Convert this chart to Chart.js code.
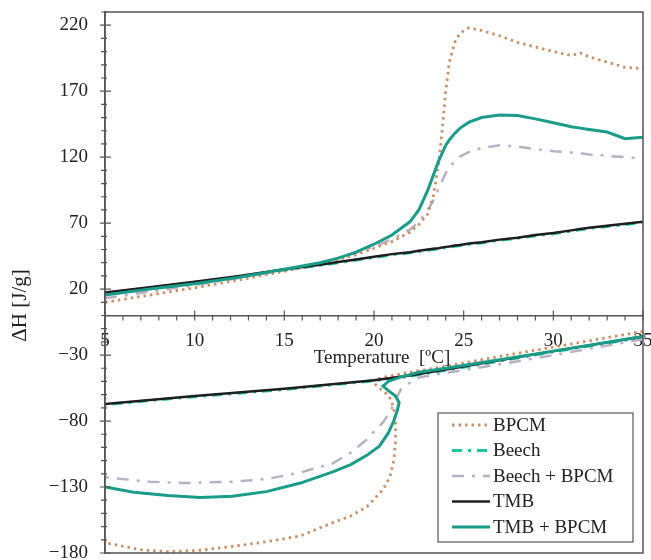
<!DOCTYPE html>
<html>
<head>
<meta charset="utf-8">
<script src="https://cdn.jsdelivr.net/npm/chart.js@4.4.1/dist/chart.umd.min.js"></script>
<style>
  html, body { margin: 0; padding: 0; background: #fff; }
  canvas { display: block; }
</style>
</head>
<body>
<canvas id="dsc" width="651" height="560"></canvas>
<script>
// axis labels
const tempTicks = [5, 10, 15, 20, 25, 30, 35];
const dhTicks = [-180, -130, -80, -30, 20, 70, 120, 170, 220];

// heating branch (positive dH), shared temperature grid
const heatT = [5, 7.5, 10, 12.5, 15, 17, 18, 19, 20, 21, 22, 22.5, 23, 23.3, 23.6, 23.8, 24, 24.2, 24.5, 24.8, 25.3, 26, 27, 28, 29, 30, 31, 31.5, 32, 33, 34, 35];
const bpcmHeat = [10, 15.5, 21, 27, 33.5, 39, 42.5, 46, 51, 56, 63, 69, 77, 90, 115, 140, 170, 192, 207, 214, 218, 216, 212, 207, 203.5, 200, 197, 199, 196, 192, 188, 187];
const beechHeat = [17, 21, 25, 29.5, 34.5, 38, 40, 42, 44, 46, 47.5, 48.5, 49.5, 50, 50.5, 51, 51.5, 51.8, 52.5, 53, 54, 55, 57, 58.5, 60.5, 62, 64, 65, 66, 67.5, 69, 70.5];
const beechPcmHeat = [13, 18, 23, 28.5, 34.5, 40, 43.5, 47.5, 52, 58, 65, 71, 80, 87, 96, 102, 108, 112, 117, 120.5, 124, 127, 129, 128, 126, 124.5, 123.5, 123, 122, 121, 120, 119];
const tmbHeat = [17.5, 21.5, 25.5, 30, 35, 38.5, 40.5, 42.5, 44.5, 46.5, 48, 49, 50, 50.5, 51, 51.5, 52, 52.3, 53, 53.5, 54.5, 55.5, 57.5, 59, 61, 62.5, 64.5, 65.5, 66.5, 68, 69.5, 71];
const tmbPcmHeat = [15.5, 20, 24, 29, 35, 40, 43.5, 48, 54, 61, 71, 80, 95, 106, 117, 123, 129, 133, 138, 142, 146.5, 150, 152, 151.5, 149, 146, 143, 142, 141, 139, 134, 135];

// cooling branch (negative dH), traced from 35 down to 5
const coolT = [35, 30, 27, 24, 22, 20, 15, 10, 5];
const beechCool = [-16.5, -27.5, -34.5, -41.5, -46, -49.5, -56, -61.5, -67.5];
const tmbCool = [-16, -27, -34, -41, -45.5, -49, -55.5, -61, -67];

const bpcmCoolT = [35, 30, 27, 24, 22, 20.5, 19.9, 20.2, 20.6, 20.9, 21.1, 21.2, 21.2, 21.1, 20.9, 20.5, 19.6, 18.7, 17.7, 15.9, 14, 12.1, 10.3, 8.5, 7, 5.3, 5];
const bpcmCool = [-12, -24, -31, -38.5, -43, -47, -49.5, -54, -58, -63, -70, -80, -95, -110, -122, -132, -145, -152, -157, -167, -171.5, -175, -178, -179, -177.5, -173, -172];

const beechPcmCoolT = [35, 30, 27, 24, 22.5, 22, 21.5, 21.2, 20.9, 20.5, 20, 19.6, 18.7, 17.7, 15.9, 14, 12.1, 9.4, 7.5, 5.3, 5];
const beechPcmCool = [-18, -30, -37, -43.5, -47, -51, -56, -64, -73, -81, -88, -94, -104, -112, -119, -124, -126, -127, -126, -123, -122.5];

const tmbPcmCoolT = [35, 30, 27, 24, 22.5, 21.5, 20.8, 20.5, 20.8, 21.2, 21.4, 21.3, 21.1, 20.8, 20.3, 19.6, 18.7, 17.7, 15.9, 14, 12.1, 10.3, 8.5, 6.6, 5];
const tmbPcmCool = [-16, -27, -33.5, -40, -43, -46.5, -50, -53.5, -57, -61, -66, -72, -80, -89, -99, -106, -113, -118.5, -127, -133.5, -137, -138, -136.5, -134, -130];

const SERIF = '"Liberation Serif", "Times New Roman", serif';

const pts = (xs, ys) => xs.map((x, i) => ({ x: x, y: ys[i] }));

// line styles per material
const styles = {
  'BPCM':         { borderColor: '#c8916a', borderWidth: 2.8, borderDash: [2.5, 4], order: 2 },
  'Beech':        { borderColor: '#22c2a4', borderWidth: 3, borderDash: [10, 6, 3, 6], order: 4 },
  'Beech + BPCM': { borderColor: '#b9b1c2', borderWidth: 2.5, borderDash: [12, 8, 3, 8], order: 3 },
  'TMB':          { borderColor: '#1e1e1e', borderWidth: 2.5, borderDash: [], order: 1 },
  'TMB + BPCM':   { borderColor: '#1a9c89', borderWidth: 3, borderDash: [], order: 0 }
};

const series = [
  ['BPCM', pts(heatT, bpcmHeat), pts(bpcmCoolT, bpcmCool)],
  ['Beech', pts(heatT, beechHeat), pts(coolT, beechCool)],
  ['Beech + BPCM', pts(heatT, beechPcmHeat), pts(beechPcmCoolT, beechPcmCool)],
  ['TMB', pts(heatT, tmbHeat), pts(coolT, tmbCool)],
  ['TMB + BPCM', pts(heatT, tmbPcmHeat), pts(tmbPcmCoolT, tmbPcmCool)]
];

const datasets = [];
series.forEach(([name, heat, cool]) => {
  const st = styles[name];
  datasets.push(Object.assign({ label: name, data: heat, inLegend: true }, st));
  datasets.push(Object.assign({ label: name + ' (cooling)', data: cool, inLegend: false }, st));
});
datasets.forEach(d => {
  d.showLine = true;
  d.pointRadius = 0;
  d.fill = false;
  d.tension = 0;
});

// box, tick marks, axis titles and legend
const frame = {
  id: 'frame',
  afterDraw(chart) {
    const { ctx, chartArea: a, scales: { x, y } } = chart;
    const y0 = y.getPixelForValue(0);
    ctx.save();
    ctx.strokeStyle = '#555';
    ctx.lineWidth = 1.5;
    ctx.strokeRect(a.left, a.top, a.right - a.left, a.bottom - a.top);

    ctx.lineWidth = 1.2;
    ctx.beginPath();
    x.ticks.forEach(t => {
      const px = x.getPixelForValue(t.value);
      const major = tempTicks.includes(t.value);
      ctx.moveTo(px, y0 - (major ? 5 : 0));
      ctx.lineTo(px, y0 + 5);
    });
    y.ticks.forEach(t => {
      const py = y.getPixelForValue(t.value);
      const major = dhTicks.includes(t.value);
      ctx.moveTo(a.left - (major ? 5 : 4), py);
      ctx.lineTo(a.left + (major ? 6 : 2), py);
    });
    ctx.stroke();

    ctx.fillStyle = '#222';
    ctx.textAlign = 'center';
    ctx.textBaseline = 'middle';
    ctx.font = '19px ' + SERIF;
    ctx.fillText('Temperature  [\u00baC]', (a.left + a.right) / 2 + 8, y0 + 43);

    ctx.save();
    ctx.translate(20, (a.top + a.bottom) / 2 + 23);
    ctx.rotate(-Math.PI / 2);
    ctx.font = '21px ' + SERIF;
    ctx.fillText('\u0394H [J/g]', 0, 0);
    ctx.restore();

    // legend
    const bx = a.right - 205, by = a.bottom - 140, bw = 195, bh = 129;
    ctx.fillStyle = '#fff';
    ctx.fillRect(bx, by, bw, bh);
    ctx.strokeStyle = '#555';
    ctx.lineWidth = 1.2;
    ctx.strokeRect(bx, by, bw, bh);
    ctx.textAlign = 'left';
    ctx.font = '19px ' + SERIF;
    chart.data.datasets.filter(d => d.inLegend).forEach((d, i) => {
      const ly = by + 12 + i * 25.5;
      ctx.strokeStyle = d.borderColor;
      ctx.lineWidth = d.borderWidth;
      ctx.setLineDash(d.borderDash);
      ctx.beginPath();
      ctx.moveTo(bx + 14, ly);
      ctx.lineTo(bx + 52, ly);
      ctx.stroke();
      ctx.setLineDash([]);
      ctx.fillStyle = '#222';
      ctx.fillText(d.label, bx + 55, ly + 1);
    });
    ctx.restore();
  }
};

const fmt = v => (v < 0 ? '\u2212' + Math.abs(v) : String(v));

new Chart(document.getElementById('dsc'), {
  type: 'scatter',
  data: { datasets: datasets },
  options: {
    responsive: false,
    animation: false,
    layout: { padding: { top: 12, right: 8, bottom: 7, left: 0 } },
    plugins: { legend: { display: false }, tooltip: { enabled: false } },
    scales: {
      x: {
        type: 'linear',
        position: { y: 0 },
        min: 5,
        max: 35,
        afterBuildTicks: s => {
          const t = [];
          for (let v = 5; v <= 35; v++) t.push({ value: v });
          s.ticks = t;
        },
        afterFit: s => { s.paddingLeft = 0; s.paddingRight = 0; },
        ticks: {
          autoSkip: false,
          maxRotation: 0,
          padding: 14,
          color: '#222',
          font: { family: SERIF, size: 19 },
          callback: v => (tempTicks.includes(v) ? String(v) : '')
        },
        grid: { drawOnChartArea: false, drawTicks: false },
        border: { color: '#555', width: 1.5 }
      },
      y: {
        type: 'linear',
        min: -180,
        max: 230,
        afterBuildTicks: s => {
          const t = [];
          for (let v = -180; v <= 230; v += 10) t.push({ value: v });
          s.ticks = t;
        },
        afterFit: s => { s.width = 105; s.paddingTop = 0; s.paddingBottom = 0; },
        ticks: {
          autoSkip: false,
          padding: 17,
          color: '#222',
          font: { family: SERIF, size: 19 },
          callback: v => (dhTicks.includes(v) ? fmt(v) : '')
        },
        grid: { drawOnChartArea: false, drawTicks: false },
        border: { color: '#555', width: 1.5 }
      }
    }
  },
  plugins: [frame]
});
</script>
</body>
</html>
